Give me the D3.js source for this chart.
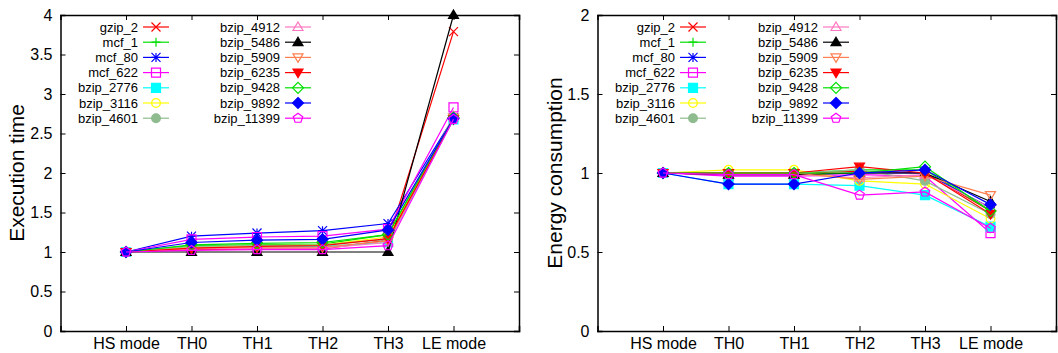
<!DOCTYPE html>
<html>
<head>
<meta charset="utf-8">
<script src="https://cdn.jsdelivr.net/npm/d3@7"></script>
<style>
  body { margin: 0; background: #fff; }
  svg { font-family: "Liberation Sans", Arial, sans-serif; }
</style>
</head>
<body>
<svg id="chart" width="1058" height="353"></svg>
<script>
const modes = ['HS mode', 'TH0', 'TH1', 'TH2', 'TH3', 'LE mode'];

const seriesNames = ['gzip_2', 'mcf_1', 'mcf_80', 'mcf_622', 'bzip_2776', 'bzip_3116', 'bzip_4601',
  'bzip_4912', 'bzip_5486', 'bzip_5909', 'bzip_6235', 'bzip_9428', 'bzip_9892', 'bzip_11399'];

// execution time, one row per series (HS, TH0..TH3, LE)
const execTime = [
  [1, 1.03, 1.04, 1.04, 1.15, 3.79],
  [1, 1.08, 1.09, 1.10, 1.22, 2.70],
  [1, 1.20, 1.24, 1.27, 1.36, 2.70],
  [1, 1.16, 1.19, 1.20, 1.29, 2.83],
  [1, 1.05, 1.06, 1.07, 1.12, 2.68],
  [1, 1.06, 1.08, 1.09, 1.19, 2.70],
  [1, 1.07, 1.08, 1.09, 1.16, 2.69],
  [1, 1.04, 1.05, 1.05, 1.12, 2.72],
  [1, 1.00, 1.00, 1.00, 1.00, 4.00],
  [1, 1.05, 1.06, 1.06, 1.14, 2.70],
  [1, 1.05, 1.07, 1.08, 1.17, 2.68],
  [1, 1.09, 1.11, 1.12, 1.22, 2.70],
  [1, 1.12, 1.15, 1.16, 1.28, 2.69],
  [1, 1.02, 1.03, 1.03, 1.08, 2.68]
];

// energy consumption
const energy = [
  [1, 1.00, 1.00, 1.01, 1.00, 0.76],
  [1, 1.00, 1.00, 1.02, 1.02, 0.76],
  [1, 0.99, 0.99, 1.00, 1.00, 0.78],
  [1, 0.98, 0.98, 0.99, 0.98, 0.62],
  [1, 0.93, 0.93, 0.92, 0.86, 0.66],
  [1, 1.02, 1.02, 0.95, 0.93, 0.71],
  [1, 1.00, 1.00, 1.02, 0.95, 0.74],
  [1, 0.99, 0.99, 0.97, 0.99, 0.78],
  [1, 0.99, 0.99, 1.00, 1.00, 0.82],
  [1, 1.00, 1.00, 0.96, 0.98, 0.86],
  [1, 1.00, 1.00, 1.04, 1.00, 0.74],
  [1, 1.00, 1.00, 1.00, 1.04, 0.76],
  [1, 0.93, 0.93, 1.00, 1.02, 0.80],
  [1, 0.99, 0.99, 0.86, 0.88, 0.65]
];

const colors = ['#ff0000', '#00e000', '#0000ff', '#ff00ff', '#00ffff', '#ffff00', '#8fbc8f',
  '#ff77c0', '#000000', '#ff7f50', '#ff0000', '#00e000', '#0000ff', '#ff00ff'];
const markers = ['x', 'plus', 'star', 'square', 'squareF', 'circle', 'circleF',
  'tri', 'triF', 'itri', 'itriF', 'diamond', 'diamondF', 'pent'];

const execTicks = [0, 0.5, 1, 1.5, 2, 2.5, 3, 3.5, 4];
const energyTicks = [0, 0.5, 1, 1.5, 2];

const svg = d3.select('#chart');

function markerPath(type) {
  const s = 4.5;
  if (type === 'x') return `M${-s},${-s}L${s},${s}M${-s},${s}L${s},${-s}`;
  if (type === 'plus') return `M${-s},0H${s}M0,${-s}V${s}`;
  if (type === 'star') return `M${-s},${-s}L${s},${s}M${-s},${s}L${s},${-s}M${-s},0H${s}M0,${-s}V${s}`;
  if (type.startsWith('square')) return `M${-s},${-s}H${s}V${s}H${-s}Z`;
  if (type.startsWith('circle')) return d3.symbol(d3.symbolCircle, 60)();
  if (type.startsWith('tri')) return `M0,${-s - 0.5}L${s + 0.5},${s - 1}L${-s - 0.5},${s - 1}Z`;
  if (type.startsWith('itri')) return `M0,${s + 0.5}L${s + 0.5},${-s + 1}L${-s - 0.5},${-s + 1}Z`;
  if (type.startsWith('diamond')) return `M0,${-s - 1}L${s + 1},0L0,${s + 1}L${-s - 1},0Z`;
  // pentagon
  const pts = d3.range(5).map(i => {
    const a = -Math.PI / 2 + i * 2 * Math.PI / 5;
    return [(s + 0.5) * Math.cos(a), (s + 0.5) * Math.sin(a)];
  });
  return 'M' + pts.map(p => p.join(',')).join('L') + 'Z';
}

function drawMarker(g, type, color, x, y) {
  const filled = type.endsWith('F');
  g.append('path')
    .attr('d', markerPath(type))
    .attr('transform', `translate(${x},${y})`)
    .attr('fill', filled ? color : 'none')
    .attr('stroke', color)
    .attr('stroke-width', 1.2);
}

function drawPanel(opts) {
  const { left, right, top, bottom, yMax, ticks, values, title, titleX, legendCols } = opts;

  const x = d3.scaleLinear().domain([-1, 6]).range([left, right]);
  const y = d3.scaleLinear().domain([0, yMax]).range([bottom, top]);

  const g = svg.append('g');

  // frame with inward ticks on all sides
  const axB = g.append('g').attr('transform', `translate(0,${bottom})`)
    .call(d3.axisBottom(x).tickValues(d3.range(6)).tickSize(-5).tickPadding(7)
      .tickFormat(i => modes[i]));
  const axT = g.append('g').attr('transform', `translate(0,${top})`)
    .call(d3.axisTop(x).tickValues(d3.range(6)).tickSize(-5).tickFormat(''));
  const axL = g.append('g').attr('transform', `translate(${left},0)`)
    .call(d3.axisLeft(y).tickValues(ticks).tickSize(-5).tickPadding(8).tickFormat(d3.format('')));
  const axR = g.append('g').attr('transform', `translate(${right},0)`)
    .call(d3.axisRight(y).tickValues(ticks).tickSize(-5).tickFormat(''));

  [axB, axT, axL, axR].forEach(a => {
    a.select('.domain').attr('stroke', '#000').attr('stroke-width', 1.5);
    a.selectAll('.tick line').attr('stroke', '#000');
    a.selectAll('text').attr('font-size', 16).attr('fill', '#000')
      .attr('font-family', '"Liberation Sans", Arial, sans-serif');
  });

  g.append('text')
    .attr('transform', `translate(${titleX},${(top + bottom) / 2}) rotate(-90)`)
    .attr('text-anchor', 'middle')
    .attr('font-size', 21)
    .text(title);

  // series
  const line = d3.line().x((d, i) => x(i)).y(d => y(d));
  values.forEach((row, k) => {
    g.append('path')
      .attr('d', line(row))
      .attr('fill', 'none')
      .attr('stroke', colors[k])
      .attr('stroke-width', 1.2);
    row.forEach((v, i) => drawMarker(g, markers[k], colors[k], x(i), y(v)));
  });

  // legend
  const lg = g.append('g');
  seriesNames.forEach((name, k) => {
    const col = k < 7 ? 0 : 1;
    const row = k % 7;
    const textEnd = legendCols[col];
    const ly = 27 + row * 15.2;
    lg.append('text')
      .attr('x', textEnd).attr('y', ly)
      .attr('dy', '0.35em')
      .attr('text-anchor', 'end')
      .attr('font-size', 13)
      .text(name);
    lg.append('line')
      .attr('x1', textEnd + 5).attr('x2', textEnd + 31)
      .attr('y1', ly).attr('y2', ly)
      .attr('stroke', colors[k]).attr('stroke-width', 1.2);
    drawMarker(lg, markers[k], colors[k], textEnd + 18, ly);
  });
}

drawPanel({
  left: 60.5, right: 519, top: 15, bottom: 331, yMax: 4,
  ticks: execTicks, values: execTime, title: 'Execution time', titleX: 24,
  legendCols: [138, 280]
});

drawPanel({
  left: 597.5, right: 1056, top: 15, bottom: 331, yMax: 2,
  ticks: energyTicks, values: energy, title: 'Energy consumption', titleX: 562,
  legendCols: [675, 818]
});
</script>
</body>
</html>
